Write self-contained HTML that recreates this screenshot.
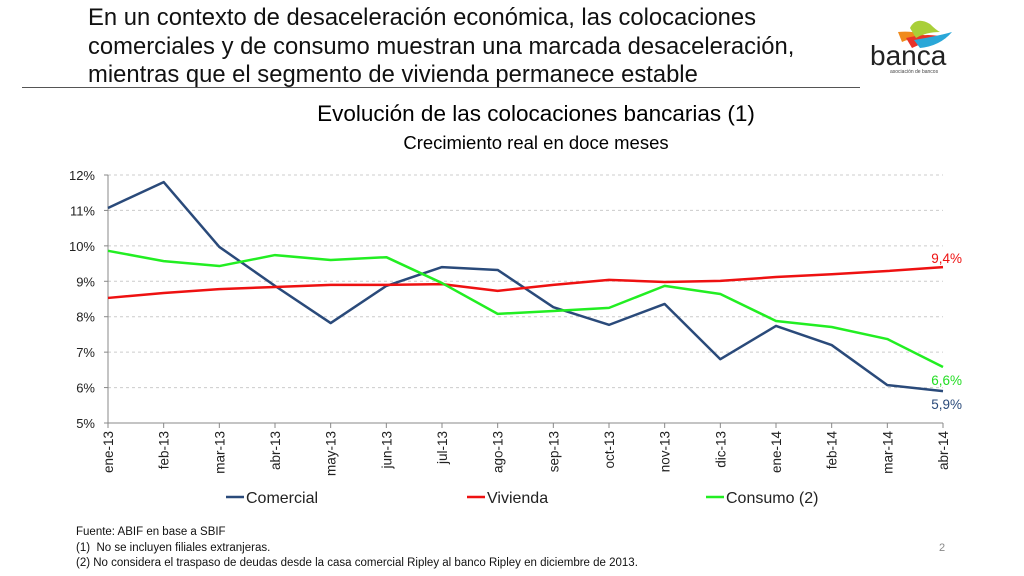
<!DOCTYPE html>
<html><head><meta charset="utf-8"><style>
body{margin:0;width:1024px;height:576px;background:#fff;overflow:hidden;position:relative;font-family:"Liberation Sans",sans-serif}
.t{position:absolute;left:88px;top:4px;font-size:23.8px;line-height:28.5px;color:#111}
</style></head><body>
<div class="t">En un contexto de desaceleración económica, las colocaciones<br>comerciales y de consumo muestran una marcada desaceleración,<br>mientras que el segmento de vivienda permanece estable</div>
<div style="position:absolute;left:22px;top:87px;width:838px;height:1px;background:#555"></div>
<svg style="position:absolute;left:860px;top:10px" width="110" height="70">
<path d="M38 22 Q60 20 72 30 Q55 26 42 32Z" fill="#f08a1c"/><path d="M46 28 Q70 22 86 28 Q68 30 52 38Z" fill="#e8332a"/>
<path d="M54 30 Q78 26 92 22 Q80 36 60 38Z" fill="#2aa7d8"/><path d="M50 18 Q56 6 70 14 Q76 20 80 22 Q66 22 56 28Z" fill="#a9cf38"/>
<text x="10" y="55" font-size="28" font-family="Liberation Sans" fill="#222">banca</text>
<text x="30" y="63" font-size="5" fill="#444">asociación de bancos</text></svg>
<div style="position:absolute;left:186px;width:700px;text-align:center;top:101px;font-size:22.5px">Evolución de las colocaciones bancarias (1)</div>
<div style="position:absolute;left:186px;width:700px;text-align:center;top:132px;font-size:18.5px">Crecimiento real en doce meses</div>
<svg id="c" width="1024" height="576" style="position:absolute;left:0;top:0"></svg>
<div style="position:absolute;left:76px;top:525px;font-size:11.5px;line-height:15.5px;color:#111">Fuente: ABIF en base a SBIF<br>(1)&nbsp; No se incluyen filiales extranjeras.<br>(2) No considera el traspaso de deudas desde la casa comercial Ripley al banco Ripley en diciembre de 2013.</div>
<div style="position:absolute;left:939px;top:542px;font-size:11px;color:#888">2</div>
<script>
const categories=["ene-13","feb-13","mar-13","abr-13","may-13","jun-13","jul-13","ago-13","sep-13","oct-13","nov-13","dic-13","ene-14","feb-14","mar-14","abr-14"];
const comercial=[11.07,11.8,9.97,8.87,7.82,8.87,9.4,9.32,8.27,7.77,8.36,6.8,7.74,7.2,6.07,5.9];
const vivienda=[8.53,8.67,8.78,8.84,8.9,8.9,8.92,8.73,8.9,9.04,8.98,9.01,9.12,9.2,9.29,9.4];
const consumo=[9.86,9.57,9.43,9.74,9.6,9.68,8.95,8.08,8.16,8.25,8.87,8.64,7.88,7.71,7.37,6.58];
const yTicks=[5,6,7,8,9,10,11,12];
const endLabels=["5,9%","9,4%","6,6%"];
const svg=document.getElementById('c');const NS='http://www.w3.org/2000/svg';
const x0=108,x1=943,yTop=175,yBot=423,ymin=5,ymax=12;
const X=i=>x0+(x1-x0)*i/(categories.length-1);
const Y=v=>yBot-(v-ymin)/(ymax-ymin)*(yBot-yTop);
function mk(t,a,txt){const e=document.createElementNS(NS,t);for(const k in a)e.setAttribute(k,a[k]);if(txt!=null)e.textContent=txt;svg.appendChild(e);return e;}
yTicks.forEach(v=>{
 if(v>ymin){const g=mk('line',{x1:x0,x2:x1,y1:Y(v),y2:Y(v),stroke:'#ccc','stroke-dasharray':'3,3'});
 
 }
 const t=mk('text',{x:95,y:Y(v)+5,'text-anchor':'end','font-size':13,fill:'#222'},v+'%');
 
 
 const tk=mk('line',{x1:x0-4,x2:x0,y1:Y(v),y2:Y(v),stroke:'#888'});
 
 
});
const ya=mk('line',{x1:x0,x2:x0,y1:yTop,y2:yBot,stroke:'#888'});


const xa=mk('line',{x1:x0,x2:x1,y1:yBot,y2:yBot,stroke:'#888'});


categories.forEach((c,i)=>{
 const tk=mk('line',{x1:X(i),x2:X(i),y1:yBot,y2:yBot+5,stroke:'#888'});
 
 
 const t=mk('text',{transform:`translate(${X(i)+5},431) rotate(-90)`,'text-anchor':'end','font-size':13.5,fill:'#222'},c);
 
 
});
const series=[[comercial,'#2a4a7a','series-comercial'],[vivienda,'#ee1111','series-vivienda'],[consumo,'#22ee22','series-consumo']];
series.forEach(([d,col,n])=>{
 const p=mk('polyline',{points:d.map((v,i)=>X(i)+','+Y(v)).join(' '),fill:'none',stroke:col,'stroke-width':2.5,'stroke-linejoin':'round'});
 
 
});
const last=categories.length-1;
[[comercial,'#2a4a7a',endLabels[0],18],[vivienda,'#ee1111',endLabels[1],-4],[consumo,'#22dd22',endLabels[2],18]].forEach(([d,col,lab,dy])=>{
 const t=mk('text',{x:962,y:Y(d[last])+dy,'text-anchor':'end','font-size':13.5,fill:col},lab);
 
 
});
[[226,'#2a4a7a','Comercial'],[467,'#ee1111','Vivienda'],[706,'#22ee22','Consumo (2)']].forEach(([lx,col,lab])=>{
 const l=mk('line',{x1:lx,x2:lx+18,y1:497,y2:497,stroke:col,'stroke-width':2.5});
 
 
 const t=mk('text',{x:lx+20,y:503,'font-size':16,fill:'#222'},lab);
 
 
});
</script>
</body></html>
